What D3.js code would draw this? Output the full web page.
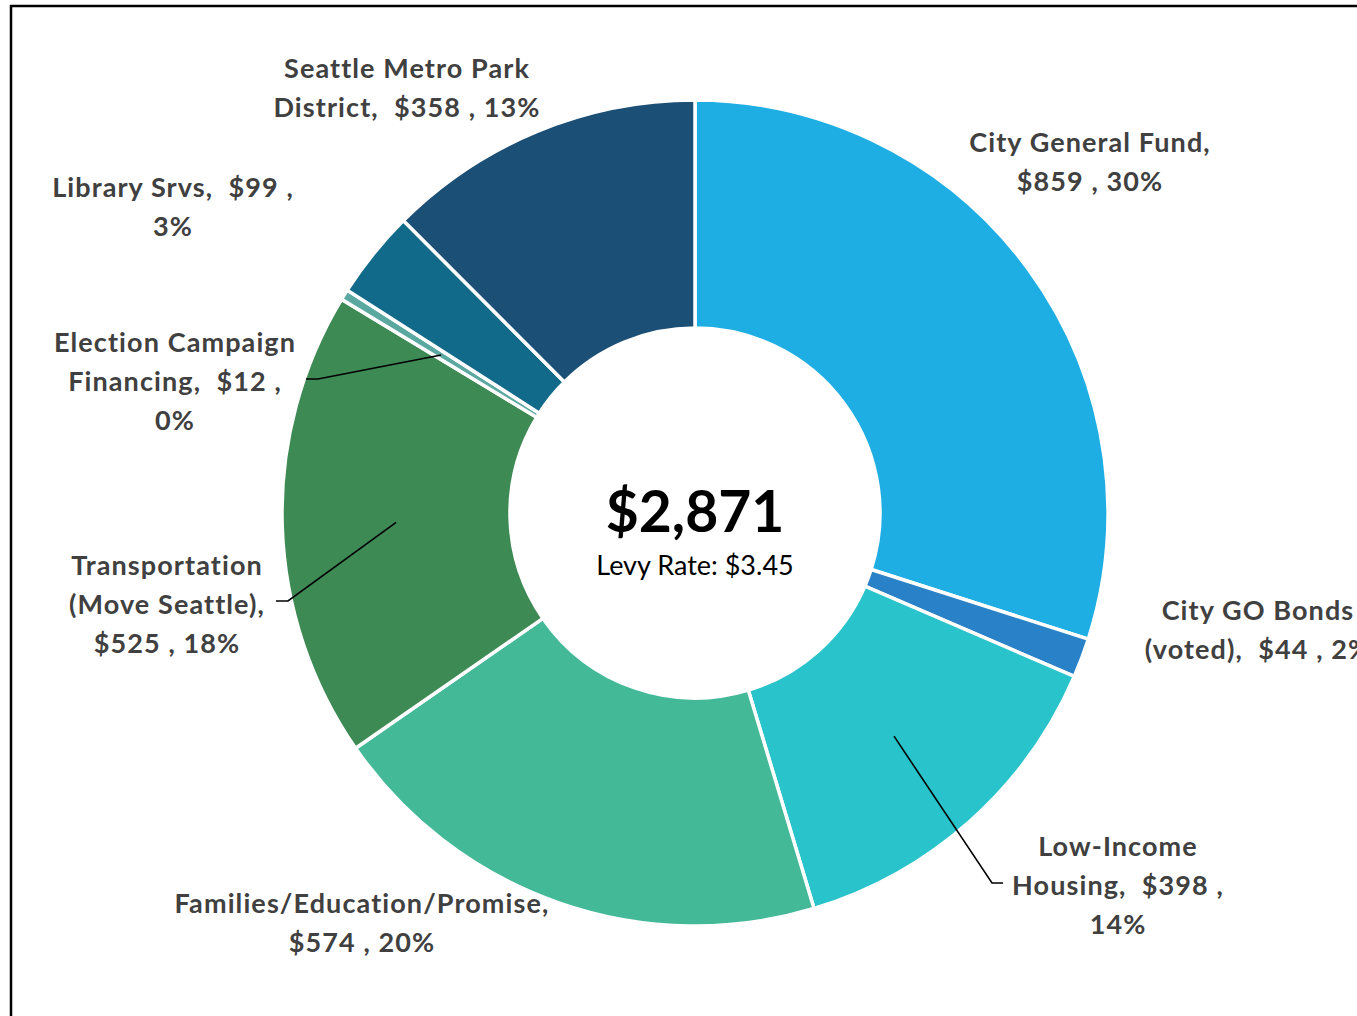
<!DOCTYPE html>
<html>
<head>
<meta charset="utf-8">
<script src="https://cdn.jsdelivr.net/npm/d3@7"></script>
<style>
  body { margin: 0; background: #fff; }
  svg { display: block; }
  .lbl { font-family: Lato, "Open Sans", sans-serif; font-weight: 700; fill: #404040; white-space: pre; letter-spacing: 1.1px; }
</style>
</head>
<body>
<div class="stage"></div>
<script>
// levy components, clockwise from 12 o'clock
var names = ["City General Fund", "City GO Bonds (voted)", "Low-Income Housing",
  "Families/Education/Promise", "Transportation (Move Seattle)",
  "Election Campaign Financing", "Library Srvs", "Seattle Metro Park District"];
var amounts = [859, 44, 398, 574, 525, 12, 99, 358];
var percents = ["30%", "2%", "14%", "20%", "18%", "0%", "3%", "13%"];
// label text as the chart wraps it
var labelLines = [
  ["City General Fund,", "$859 , 30%"],
  ["City GO Bonds", "(voted),  $44 , 2%"],
  ["Low-Income", "Housing,  $398 ,", "14%"],
  ["Families/Education/Promise,", "$574 , 20%"],
  ["Transportation", "(Move Seattle),", "$525 , 18%"],
  ["Election Campaign", "Financing,  $12 ,", "0%"],
  ["Library Srvs,  $99 ,", "3%"],
  ["Seattle Metro Park", "District,  $358 , 13%"]
];
var totalText = "$2,871";
var levyText = "Levy Rate: $3.45";

var colors = ["#1faee4", "#2982c7", "#29c4cb", "#43b998", "#3e8a54", "#5ba8a1", "#116a89", "#1b4f76"];

var W = 1357, H = 1016;
var cx = 695, cy = 513, outerR = 413, innerR = 185;

// where each label block sits (center x, first line y)
var labelPos = [
  [1090, 152], [1258, 620], [1118, 856], [362, 913],
  [167, 575], [175, 352], [173, 197], [407, 78]
];
// leader elbows [elbow x, elbow y, end x] for the labels that have them
var leaders = { 2: [992, 883, 1003], 4: [288, 601, 276], 5: [318, 379, 306] };

var svg = d3.select(".stage").append("svg")
  .attr("width", W)
  .attr("height", H);

svg.append("rect")
  .attr("width", W).attr("height", H)
  .attr("fill", "#fff");

// chart frame, runs off right and bottom
svg.append("rect")
  .attr("x", 11).attr("y", 6)
  .attr("width", W + 20).attr("height", H + 20)
  .attr("fill", "none")
  .attr("stroke", "#000")
  .attr("stroke-width", 2.5);

var pie = d3.pie().sort(null).value(function(d) { return d; });
var arcs = pie(amounts);
var arc = d3.arc().innerRadius(innerR).outerRadius(outerR);

var g = svg.append("g").attr("transform", "translate(" + cx + "," + cy + ")");

g.selectAll("path.slice")
  .data(arcs)
  .enter().append("path")
  .attr("class", "slice")
  .attr("d", arc)
  .attr("fill", function(d, i) { return colors[i]; })
  .attr("stroke", "#fff")
  .attr("stroke-width", 3.5)
  .attr("stroke-linejoin", "miter");

// leader lines from slice centroid to label
arcs.forEach(function(d, i) {
  if (!leaders[i]) return;
  var c = arc.centroid(d);
  var l = leaders[i];
  svg.append("polyline")
    .attr("points", [[cx + c[0], cy + c[1]], [l[0], l[1]], [l[2], l[1]]].map(function(p) { return p.join(","); }).join(" "))
    .attr("fill", "none")
    .attr("stroke", "#000")
    .attr("stroke-width", 1.6);
});

// labels
labelLines.forEach(function(lines, i) {
  var t = svg.append("text")
    .attr("class", "lbl")
    .attr("text-anchor", "middle")
    .attr("font-size", "27px")
    .attr("x", labelPos[i][0])
    .attr("y", labelPos[i][1]);
  lines.forEach(function(s, k) {
    t.append("tspan")
      .attr("x", labelPos[i][0])
      .attr("y", labelPos[i][1] + k * 39)
      .text(s);
  });
});

// center total
svg.append("text")
  .attr("x", cx).attr("y", cy + 19)
  .attr("text-anchor", "middle")
  .attr("font-family", "Lato, sans-serif")
  .attr("font-weight", 700)
  .attr("font-size", "57px")
  .attr("fill", "#000")
  .text(totalText);

svg.append("text")
  .attr("x", cx).attr("y", cy + 62)
  .attr("text-anchor", "middle")
  .attr("font-family", "Lato, sans-serif")
  .attr("font-size", "27px")
  .attr("fill", "#000")
  .text(levyText);
</script>
</body>
</html>
